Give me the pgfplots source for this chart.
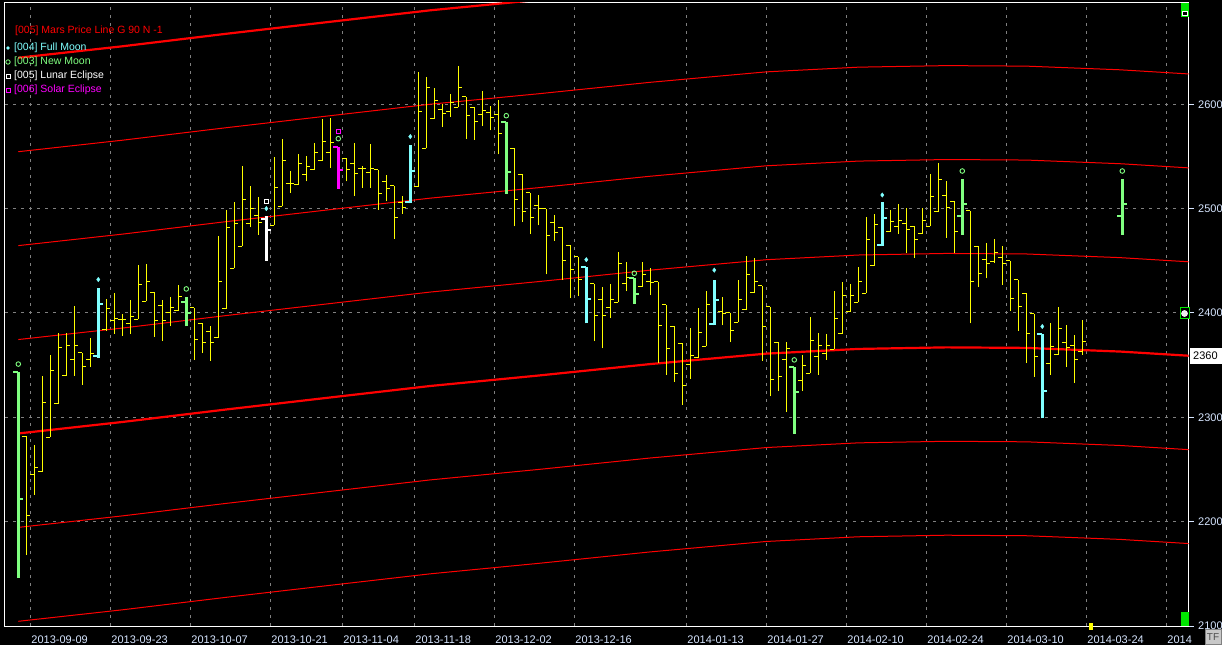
\documentclass[border=0pt]{standalone}
\usepackage{fontspec}
\setmainfont{Liberation Sans}
\usepackage{pgfplots}
\usepackage{pgfplotstable}
\pgfplotsset{compat=1.18}

\definecolor{barY}{RGB}{255,255,0}
\definecolor{fullC}{RGB}{128,255,255}
\definecolor{newG}{RGB}{128,255,128}
\definecolor{solM}{RGB}{255,0,255}
\definecolor{mars}{RGB}{255,0,0}
\definecolor{gridG}{RGB}{128,128,128}
\definecolor{lbl}{RGB}{215,230,255}
\definecolor{boxG}{RGB}{0,230,0}
\definecolor{tfgray}{RGB}{200,200,200}

% open / close ticks of an OHLC bar
\pgfdeclareplotmark{otick}{\pgfpathmoveto{\pgfqpoint{-4pt}{0pt}}\pgfpathlineto{\pgfqpoint{0pt}{0pt}}\pgfusepathqstroke}
\pgfdeclareplotmark{ctick}{\pgfpathmoveto{\pgfqpoint{0pt}{0pt}}\pgfpathlineto{\pgfqpoint{4pt}{0pt}}\pgfusepathqstroke}
\pgfdeclareplotmark{otickw}{\pgfpathmoveto{\pgfqpoint{-5pt}{0pt}}\pgfpathlineto{\pgfqpoint{0pt}{0pt}}\pgfusepathqstroke}
\pgfdeclareplotmark{ctickw}{\pgfpathmoveto{\pgfqpoint{0pt}{0pt}}\pgfpathlineto{\pgfqpoint{5pt}{0pt}}\pgfusepathqstroke}

% #1 table, #2 colour, #3 bar width, #4 tick width, #5 mark suffix
\newcommand{\ohlc}[5]{%
  \addplot[draw=none, forget plot, error bars/.cd, y dir=plus, y explicit, error mark=none,
    error bar style={draw=#2, line width=#3, solid}]
    table[x=k, y=l, y error plus expr={\thisrow{h}-\thisrow{l}}] {#1};
  \addplot[only marks, mark=otick#5, mark options={draw=#2, line width=#4}] table[x=k, y=o] {#1};
  \addplot[only marks, mark=ctick#5, mark options={draw=#2, line width=#4}] table[x=k, y=c] {#1};
}

% bar index k: one trading day each
\pgfplotstableread{
k o h l c
1 2282 2282 2168 2206
2 2245 2273 2226 2252
3 2248 2340 2248 2314
4 2281 2360 2281 2345
5 2313 2381 2313 2367
6 2340 2381 2340 2369
7 2355 2407 2340 2369
8 2362 2362 2331 2349
9 2355 2376 2348 2361
11 2384 2413 2383 2404
12 2393 2419 2380 2395
13 2394 2399 2378 2394
14 2390 2412 2380 2397
15 2394 2446 2394 2427
16 2411 2447 2411 2430
17 2420 2420 2377 2393
18 2407 2412 2373 2393
19 2400 2415 2387 2405
20 2402 2427 2402 2416
22 2405 2405 2355 2375
23 2390 2390 2362 2372
24 2382 2387 2354 2372
25 2376 2474 2376 2430
26 2404 2499 2404 2482
27 2443 2506 2443 2486
28 2464 2541 2464 2509
29 2486 2522 2482 2500
30 2493 2511 2475 2487
32 2484 2549 2484 2520
33 2502 2567 2502 2546
34 2524 2536 2515 2524
35 2523 2552 2523 2543
36 2533 2550 2526 2540
37 2537 2563 2537 2554
38 2546 2586 2546 2564
39 2554 2587 2539 2563
41 2548 2548 2526 2537
42 2543 2563 2512 2534
43 2538 2541 2520 2538
44 2535 2562 2520 2538
45 2537 2537 2499 2514
46 2526 2532 2507 2519
47 2522 2522 2471 2491
48 2506 2512 2495 2501
50 2521 2631 2521 2593
51 2558 2626 2558 2616
52 2586 2616 2586 2604
53 2595 2600 2578 2591
54 2593 2610 2588 2602
55 2597 2637 2597 2616
56 2607 2607 2567 2589
57 2597 2597 2566 2583
58 2590 2613 2579 2594
59 2592 2598 2575 2587
60 2590 2604 2552 2572
62 2558 2558 2483 2509
63 2533 2533 2487 2497
64 2515 2515 2476 2491
65 2503 2513 2484 2500
66 2500 2500 2437 2474
67 2487 2494 2469 2477
68 2482 2482 2432 2450
69 2465 2465 2414 2442
70 2454 2454 2416 2432
72 2428 2428 2373 2398
73 2413 2425 2366 2398
74 2405 2428 2395 2413
75 2410 2458 2410 2447
76 2428 2449 2421 2434
78 2425 2449 2425 2437
79 2430 2443 2417 2429
80 2430 2430 2352 2388
81 2408 2408 2341 2366
82 2387 2387 2334 2342
83 2371 2371 2312 2330
84 2351 2386 2337 2359
85 2357 2405 2357 2381
86 2368 2421 2368 2408
88 2401 2415 2388 2399
89 2400 2400 2372 2383
90 2391 2432 2391 2413
91 2403 2455 2403 2437
92 2420 2453 2419 2430
93 2426 2426 2354 2387
94 2406 2406 2320 2336
95 2372 2372 2325 2339
96 2355 2372 2305 2366
98 2335 2360 2325 2350
99 2342 2396 2342 2374
100 2358 2381 2341 2369
101 2361 2380 2355 2369
102 2365 2421 2365 2395
103 2380 2430 2380 2417
104 2401 2428 2401 2417
105 2410 2444 2410 2430
106 2419 2492 2419 2470
107 2445 2495 2445 2485
109 2478 2499 2478 2488
110 2483 2504 2476 2489
111 2486 2501 2457 2480
112 2483 2483 2453 2470
113 2476 2501 2476 2489
114 2483 2533 2483 2512
115 2497 2544 2497 2528
116 2513 2526 2472 2501
117 2507 2507 2457 2478
119 2498 2498 2390 2430
120 2464 2464 2425 2438
121 2451 2467 2433 2447
122 2449 2471 2448 2458
123 2453 2464 2427 2447
124 2450 2450 2402 2414
125 2432 2432 2383 2406
126 2419 2419 2352 2380
127 2399 2399 2339 2358
129 2352 2390 2341 2368
130 2360 2406 2360 2385
131 2372 2388 2348 2367
132 2369 2379 2333 2355
133 2363 2393 2360 2373
}\plainbars

\pgfplotstableread{
k o h l c
0 2343.5 2343.5 2146 2222
21 2410 2415 2387 2400
61 2583 2583 2514 2535
77 2433 2433 2409 2418
97 2348 2348 2284 2324
118 2493 2528 2475 2504
138 2493 2528 2475 2504
}\newmoonbars

\pgfplotstableread{
k o h l c
10 2359 2424 2357 2409
49 2506 2561 2505 2536
71 2444 2444 2390 2413
87 2389 2432 2388 2412
108 2465 2506 2464 2491
128 2380 2380 2299 2325
}\fullmoonbars

\pgfplotstableread{
k o h l c
31 2490 2493 2450 2479
}\lunarbars

\pgfplotstableread{
k o h l c
40 2559 2559 2519 2537
}\solarbars

% Mars price line and its 90-point harmonics
\pgfplotstableread{
k m2 m1 b p1 p2 p3 p4
0 2104.5 2194.5 2284.5 2374.5 2464.5 2554.5 2644.5
13 2115.5 2205.5 2295.5 2385.5 2475.5 2565.5 2655.5
26 2127.5 2217.5 2307.5 2397.5 2487.5 2577.5 2667.5
39 2139 2229 2319 2409 2499 2589 2679
51.5 2150 2240 2330 2420 2510 2600 2690
65 2160 2250 2340 2430 2520 2610 2700
79 2171 2261 2351 2441 2531 2621 2711
93.5 2181 2271 2361 2451 2541 2631 2721
105 2185.5 2275.5 2365.5 2455.5 2545.5 2635.5 2725.5
116 2187 2277 2367 2457 2547 2637 2727
126 2186.5 2276.5 2366.5 2456.5 2546.5 2636.5 2726.5
137.7 2183 2273 2363 2453 2543 2633 2723
146.3 2179 2269 2359 2449 2539 2629 2719
}\marslines

\begin{document}
\begin{tikzpicture}[font=\fontsize{11}{13}\selectfont]
\fill[black] (0pt,0pt) rectangle (1222pt,645pt);
\begin{axis}[
  at={(5pt,19pt)}, anchor=south west,
  scale only axis, width=1184pt, height=623pt,
  xmin=-1.6625, xmax=146.34, ymin=2100, ymax=2697,
  axis line style={white, line width=1pt},
  xtick={1.5,11.5,21.5,31.5,40.5,49.5,59.5,69.5,83.5,93.5,103.5,113.5,123.5,133.5,143.5},
  xticklabels={2013-09-09,2013-09-23,2013-10-07,2013-10-21,2013-11-04,2013-11-18,2013-12-02,2013-12-16,2014-01-13,2014-01-27,2014-02-10,2014-02-24,2014-03-10,2014-03-24,2014},
  ytick={2100,2200,2300,2400,2500,2600},
  yticklabels={2100,2200,2300,2400,2500,2600},
  xtick pos=bottom, ytick pos=right, yticklabel pos=right,
  tick align=outside, major tick length=5pt,
  xtick style={draw=none},
  ytick style={draw=lbl, line width=1pt},
  grid=major,
  major grid style={gridG, line width=1pt, dash pattern=on 3pt off 5pt},
  tick label style={font=\fontsize{11}{13}\selectfont, text=lbl, inner sep=0pt},
  xticklabel style={anchor=north west, xshift=1pt, yshift=-5pt},
  yticklabel style={anchor=west, xshift=4pt},
]
\addplot[mars, line width=1pt] table[x=k, y=m2] {\marslines};
\addplot[mars, line width=1pt] table[x=k, y=m1] {\marslines};
\addplot[mars, line width=2.2pt] table[x=k, y=b] {\marslines};
\addplot[mars, line width=1pt] table[x=k, y=p1] {\marslines};
\addplot[mars, line width=1pt] table[x=k, y=p2] {\marslines};
\addplot[mars, line width=1pt] table[x=k, y=p3] {\marslines};
\addplot[mars, line width=2.2pt] table[x=k, y=p4] {\marslines};

\ohlc{\plainbars}{barY}{1pt}{1pt}{}
\ohlc{\newmoonbars}{newG}{3pt}{2pt}{w}
\ohlc{\fullmoonbars}{fullC}{3pt}{2pt}{w}
\ohlc{\lunarbars}{white}{3pt}{2pt}{w}
\ohlc{\solarbars}{solM}{3pt}{2pt}{w}

\addplot[only marks, mark=diamond*, mark size=2.2pt, mark options={fill=fullC, draw=fullC}]
  coordinates {(10,2432) (31,2500) (49,2569) (71,2451) (87,2441) (108,2513) (128,2387)};
\addplot[only marks, mark=o, mark size=2.3pt, mark options={draw=newG, line width=0.9pt}]
  coordinates {(0,2351) (21,2423) (40,2567) (61,2589) (77,2438) (97,2355) (118,2536) (138,2536)};
\addplot[only marks, mark=square, mark size=2.3pt, mark options={draw=white, line width=0.9pt}]
  coordinates {(31,2507)};
\addplot[only marks, mark=square, mark size=2.3pt, mark options={draw=solM, line width=0.9pt}]
  coordinates {(40,2574)};
\end{axis}

% legend
\node[anchor=west, inner sep=0pt, text=mars, font=\fontsize{10.5}{12}\selectfont] at (15pt,614pt) {[005] Mars Price Line G 90 N -1};
\fill[fullC] (8pt,597pt) circle (1.8pt);
\node[anchor=west, inner sep=0pt, text=fullC, font=\fontsize{10.5}{12}\selectfont] at (14pt,597pt) {[004] Full Moon};
\draw[newG, line width=0.8pt] (8pt,583pt) circle (2.2pt);
\node[anchor=west, inner sep=0pt, text=newG, font=\fontsize{10.5}{12}\selectfont] at (14pt,583pt) {[003] New Moon};
\draw[white, line width=0.8pt] (6pt,567pt) rectangle (10pt,571pt);
\node[anchor=west, inner sep=0pt, text=white, font=\fontsize{10.5}{12}\selectfont] at (14pt,569pt) {[005] Lunar Eclipse};
\draw[solM, line width=0.8pt] (6pt,553pt) rectangle (10pt,557pt);
\node[anchor=west, inner sep=0pt, text=solM, font=\fontsize{10.5}{12}\selectfont] at (14pt,555pt) {[006] Solar Eclipse};

% chart widgets
\fill[white] (1190pt,281pt) rectangle (1222pt,297pt);
\node[anchor=west, inner sep=0pt, text=black] at (1193pt,289pt) {2360};
\fill[boxG] (1181pt,628pt) rectangle (1189pt,642pt);
\draw[white, fill=black, line width=0.8pt] (1182.5pt,629.5pt) rectangle (1187.5pt,633.5pt);
\fill[boxG] (1181pt,19pt) rectangle (1189pt,33pt);
\draw[boxG, fill=black, line width=1pt] (1180pt,326pt) rectangle (1189pt,337pt);
\draw[white, fill=white!85!gray, line width=0.6pt] (1184.5pt,331.5pt) circle (3pt);
\fill[barY] (1089pt,15pt) rectangle (1093pt,22pt);
\draw[gray, fill=tfgray] (1205pt,0.5pt) rectangle (1221.5pt,16pt);
\node[text=black!70, inner sep=0pt, font=\fontsize{10}{12}\selectfont] at (1213pt,8pt) {TF};

\pgfresetboundingbox
\path[use as bounding box] (0pt,0pt) rectangle (1222pt,645pt);
\end{tikzpicture}
\end{document}
